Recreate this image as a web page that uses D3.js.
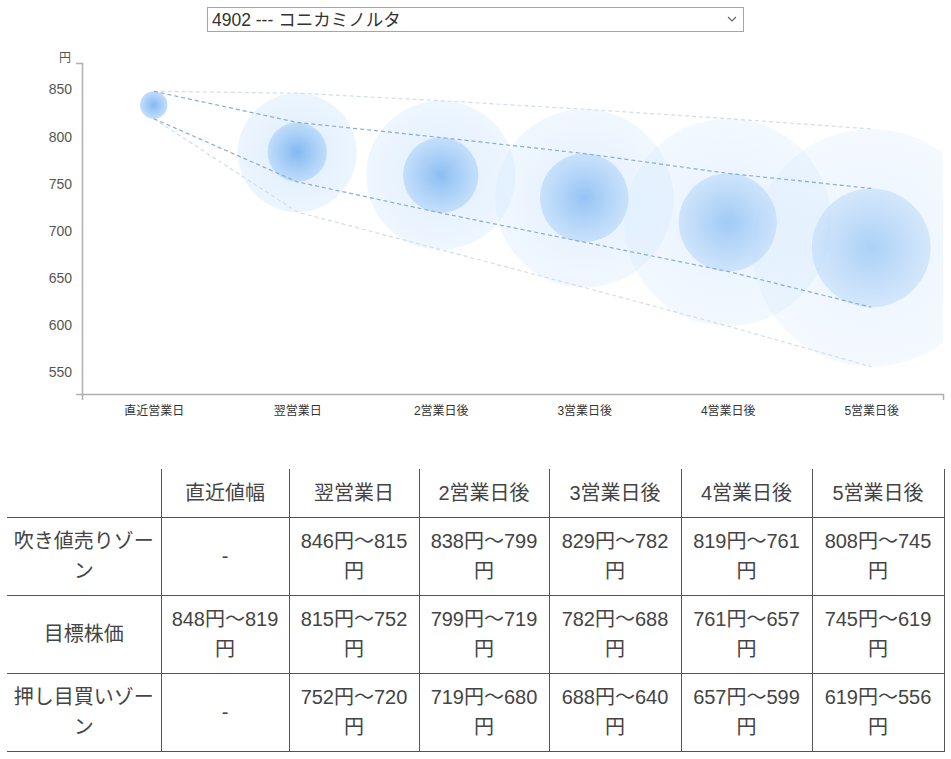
<!DOCTYPE html>
<html lang="ja">
<head>
<meta charset="utf-8">
<script src="https://cdn.jsdelivr.net/npm/d3@7"></script>
<style>
  body { margin: 0; background: #fff; font-family: "Liberation Sans", Arial, "Noto Sans CJK JP", sans-serif; }
  #picker { position: absolute; left: 207px; top: 7px; width: 537px; height: 25px; box-sizing: border-box; border: 1px solid #a6a6a6; background: #fff; }
  #picker select { appearance: none; -webkit-appearance: none; border: none; outline: none; background: transparent; width: 100%; height: 100%; font-family: inherit; font-size: 17.5px; color: #333; padding: 0 0 0 4px; margin: 0; }
  #picker svg { position: absolute; right: 6px; top: 8px; pointer-events: none; }
  #chart { position: absolute; left: 0; top: 0; }
  #zones { position: absolute; left: 7px; top: 469px; width: 937px; border-collapse: collapse; table-layout: fixed; font-size: 20px; line-height: 30px; color: #444; }
  #zones th, #zones td { font-weight: normal; text-align: center; vertical-align: middle; padding: 0 5px; border-right: 1px solid #555; border-bottom: 1px solid #555; }
  #zones thead tr { height: 48px; }
  #zones tbody tr { height: 78px; }
</style>
</head>
<body>
<div id="picker">
  <select><option>4902 --- コニカミノルタ</option></select>
  <svg width="10" height="7"><path d="M1,1 L5,5 L9,1" fill="none" stroke="#666" stroke-width="1.2"/></svg>
</div>
<svg id="chart" width="951" height="440"></svg>
<table id="zones"></table>
<script>
// ----- data -----
const days = ["直近営業日", "翌営業日", "2営業日後", "3営業日後", "4営業日後", "5営業日後"];
const tableHeads = ["直近値幅", "翌営業日", "2営業日後", "3営業日後", "4営業日後", "5営業日後"];
const rowNames = ["吹き値売りゾーン", "目標株価", "押し目買いゾーン"];

const sellHigh = [null, 846, 838, 829, 819, 808];
const targetHigh = [848, 815, 799, 782, 761, 745];
const targetLow = [819, 752, 719, 688, 657, 619];
const buyLow = [null, 720, 680, 640, 599, 556];

const yTicks = [550, 600, 650, 700, 750, 800, 850];
const yDomain = [527, 878];

// ----- chart -----
const svg = d3.select("svg#chart");
const plot = { left: 82, right: 943, top: 63, bottom: 394 };

const xScale = d3.scalePoint().domain(days).range([plot.left, plot.right]).padding(0.5);
const yScale = d3.scaleLinear().domain(yDomain).range([plot.bottom, plot.top]);

// bubbles fade out the further ahead the forecast goes
const fade = d3.scaleLinear().domain([1, days.length - 1]).range([1, 0.6]).clamp(true);

const defs = svg.append("defs");

defs.append("clipPath").attr("id", "plotClip")
  .append("rect")
  .attr("x", plot.left).attr("y", plot.top)
  .attr("width", plot.right - plot.left).attr("height", plot.bottom - plot.top);

const gOuter = defs.append("radialGradient").attr("id", "gOuter");
gOuter.append("stop").attr("offset", "0%").attr("stop-color", "#cde4fc").attr("stop-opacity", 0.7);
gOuter.append("stop").attr("offset", "100%").attr("stop-color", "#d3e8fd").attr("stop-opacity", 0.42);

const gInner = defs.append("radialGradient").attr("id", "gInner");
gInner.append("stop").attr("offset", "0%").attr("stop-color", "#82b9f2").attr("stop-opacity", 1);
gInner.append("stop").attr("offset", "100%").attr("stop-color", "#bcdafa").attr("stop-opacity", 0.9);

const chartArea = svg.append("g").attr("clip-path", "url(#plotClip)");

// outer bubbles: buy zone bottom to sell zone top
const outerData = days.map((d, i) => ({ i, day: d, hi: sellHigh[i], lo: buyLow[i] })).filter(d => d.hi != null);
chartArea.selectAll("circle.outer")
  .data(outerData)
  .join("circle")
  .attr("class", "outer")
  .attr("cx", d => xScale(d.day))
  .attr("cy", d => yScale((d.hi + d.lo) / 2))
  .attr("r", d => (yScale(d.lo) - yScale(d.hi)) / 2)
  .attr("opacity", d => fade(d.i))
  .style("fill", "url(#gOuter)");

// inner bubbles: target price range
const innerData = days.map((d, i) => ({ i, day: d, hi: targetHigh[i], lo: targetLow[i] }));
chartArea.selectAll("circle.inner")
  .data(innerData)
  .join("circle")
  .attr("class", "inner")
  .attr("cx", d => xScale(d.day))
  .attr("cy", d => yScale((d.hi + d.lo) / 2))
  .attr("r", d => (yScale(d.lo) - yScale(d.hi)) / 2)
  .attr("opacity", d => fade(d.i))
  .style("fill", "url(#gInner)");

// dashed band edges
const edge = d3.line().x(d => xScale(d.day)).y(d => yScale(d.v));
const bands = [
  { vals: days.map((d, i) => ({ day: d, v: i === 0 ? targetHigh[0] : sellHigh[i] })), color: "#d3dde8" },
  { vals: days.map((d, i) => ({ day: d, v: i === 0 ? targetLow[0] : buyLow[i] })), color: "#d3dde8" },
  { vals: days.map((d, i) => ({ day: d, v: targetHigh[i] })), color: "#8aabd2" },
  { vals: days.map((d, i) => ({ day: d, v: targetLow[i] })), color: "#8aabd2" }
];
chartArea.selectAll("path.edge")
  .data(bands)
  .join("path")
  .attr("class", "edge")
  .attr("d", d => edge(d.vals))
  .attr("fill", "none")
  .attr("stroke", d => d.color)
  .attr("stroke-width", 1.2)
  .attr("stroke-dasharray", "4,3");

// axes
const yAxis = d3.axisLeft(yScale).tickValues(yTicks).tickSizeInner(0).tickSizeOuter(6).tickPadding(10);
const xAxis = d3.axisBottom(xScale).tickSizeInner(0).tickSizeOuter(6).tickPadding(12);

const ySide = svg.append("g").attr("transform", `translate(${plot.left},0)`).call(yAxis);
const xSide = svg.append("g").attr("transform", `translate(0,${plot.bottom})`).call(xAxis);

[ySide, xSide].forEach(g => {
  g.select(".domain").attr("stroke", "#b0b0b0").attr("stroke-width", 1.5);
  g.selectAll(".tick line").remove();
});
ySide.selectAll(".tick text").attr("font-size", 14).attr("fill", "#555")
  .attr("font-family", "'Liberation Sans', Arial, sans-serif");
xSide.selectAll(".tick text").attr("font-size", 12).attr("fill", "#333")
  .attr("font-family", "'Liberation Sans', Arial, 'Noto Sans CJK JP', sans-serif");

svg.append("text")
  .attr("x", plot.left - 11).attr("y", plot.top - 1)
  .attr("text-anchor", "end")
  .attr("font-size", 12).attr("fill", "#555")
  .attr("font-family", "'Noto Sans CJK JP', sans-serif")
  .text("円");

// ----- table -----
const table = d3.select("#zones");
const colWidths = [154, 128, 130, 130, 132, 131, 132];
table.append("colgroup").selectAll("col").data(colWidths).join("col").style("width", d => d + "px");

table.append("thead").append("tr")
  .selectAll("th")
  .data([""].concat(tableHeads))
  .join("th")
  .text(d => d);

const range = (a, b) => (a == null || b == null) ? "-" : `${a}円～${b}円`;
const rows = [
  days.map((d, i) => range(sellHigh[i], targetHigh[i])),
  days.map((d, i) => range(targetHigh[i], targetLow[i])),
  days.map((d, i) => range(targetLow[i], buyLow[i]))
];

table.append("tbody")
  .selectAll("tr")
  .data(rows)
  .join("tr")
  .selectAll("td")
  .data((r, i) => [rowNames[i]].concat(r))
  .join("td")
  .text(d => d);
</script>
</body>
</html>
